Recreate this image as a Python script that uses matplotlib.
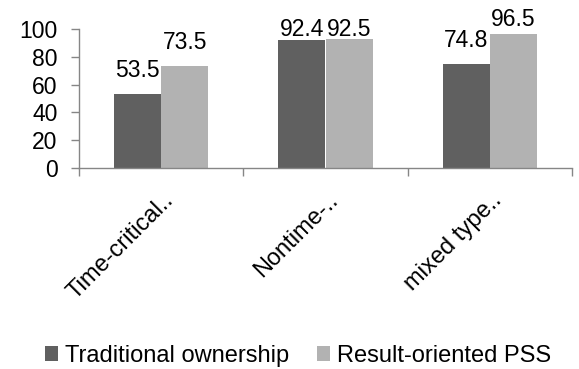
import matplotlib
matplotlib.use("Agg")
import matplotlib.pyplot as plt
from matplotlib.patches import Patch
from matplotlib.transforms import ScaledTranslation
import numpy as np

categories = ["Time-critical..", "Nontime-..", "mixed type.."]
traditional = [53.5, 92.4, 74.8]
result_pss = [73.5, 92.5, 96.5]
series_names = ["Traditional ownership", "Result-oriented PSS"]

DARK = "#606060"
LIGHT = "#b2b2b2"
AXIS = "#868686"

# label gap above each bar (points); Excel squeezes the high ones
pad_trad = [12.2, 2.9, 12.2]
pad_pss = [12.2, 2.2, 5.8]

plt.rcParams["font.family"] = ["Liberation Sans", "DejaVu Sans"]

fig = plt.figure(figsize=(5.79, 3.69), dpi=100)
ax = fig.add_axes([79/579, 1-168/369, (572-79)/579, (168-29)/369])

x = np.arange(len(categories))
w = 0.287
b1 = ax.bar(x - w/2, traditional, w, color=DARK, zorder=2)
b2 = ax.bar(x + w/2, result_pss, w, color=LIGHT, zorder=2)

for bars, vals, pads in [(b1, traditional, pad_trad), (b2, result_pss, pad_pss)]:
    for r, v, p in zip(bars, vals, pads):
        ax.annotate(f"{v}", (r.get_x() + r.get_width()/2, v),
                    xytext=(0, p), textcoords="offset points",
                    ha="center", va="baseline", fontsize=16.5, color="black")

ax.set_xlim(-0.5, len(categories) - 0.5)
ax.set_ylim(0, 100)
ax.set_yticks(range(0, 101, 20))
ax.set_xticks(np.arange(len(categories) + 1) - 0.5)
ax.set_xticklabels([])

for s in ["top", "right"]:
    ax.spines[s].set_visible(False)
for s in ["left", "bottom"]:
    ax.spines[s].set_color(AXIS)
    ax.spines[s].set_linewidth(1.0)
ax.tick_params(axis="both", color=AXIS, length=5.5, width=1.0)
ax.tick_params(axis="y", labelsize=16.5, pad=10)

# rotated category labels, right end near the category centre
off = ScaledTranslation(13/100, -33/100, fig.dpi_scale_trans)
for xi, lab in zip(x, categories):
    ax.text(xi, 0, lab, transform=ax.get_xaxis_transform() + off,
            rotation=45, rotation_mode="anchor", ha="right", va="baseline",
            fontsize=17, color="black")

handles = [Patch(facecolor=DARK), Patch(facecolor=LIGHT)]
fig.legend(handles, series_names, loc="center", ncol=2,
           bbox_to_anchor=(298/579, 1-356/369), frameon=False,
           fontsize=17, handlelength=0.55, handleheight=0.6,
           handletextpad=0.3, columnspacing=1.2, borderaxespad=0)

fig.savefig("out.png", dpi=100)
